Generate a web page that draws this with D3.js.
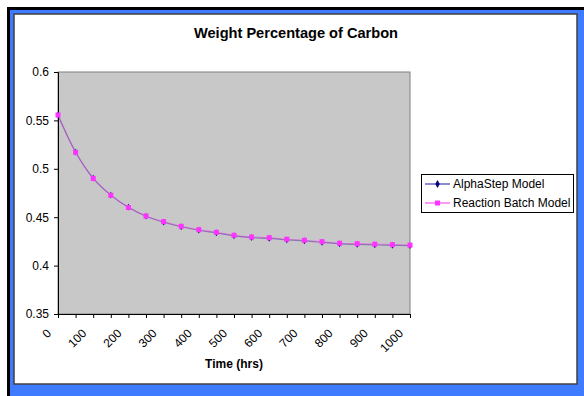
<!DOCTYPE html>
<html>
<head>
<meta charset="utf-8">
<script src="https://cdn.jsdelivr.net/npm/d3@7"></script>
<style>
  body { margin: 0; background: #fff; }
  text { font-family: "Liberation Sans", Arial, sans-serif; }
</style>
</head>
<body>
<div id="chart"></div>
<script>
const width = 584;
const height = 396;

// hours, every 50
const hours = [0, 50, 100, 150, 200, 250, 300, 350, 400, 450, 500,
               550, 600, 650, 700, 750, 800, 850, 900, 950, 1000];
const alphaStep = [0.5556, 0.5173, 0.4903, 0.4728, 0.4603, 0.4510, 0.4448, 0.4401, 0.4365, 0.4338, 0.4308,
                   0.4289, 0.4281, 0.4265, 0.4255, 0.4240, 0.4224, 0.4219, 0.4214, 0.4209, 0.4207];
const reactionBatch = [0.5556, 0.5170, 0.4900, 0.4726, 0.4600, 0.4512, 0.4454, 0.4406, 0.4371, 0.4344, 0.4313,
                       0.4295, 0.4288, 0.4272, 0.4262, 0.4247, 0.4231, 0.4226, 0.4221, 0.4216, 0.4211];
const yTicks = [0.35, 0.4, 0.45, 0.5, 0.55, 0.6];
const xLabels = [0, 100, 200, 300, 400, 500, 600, 700, 800, 900, 1000];
const seriesNames = ['AlphaStep Model', 'Reaction Batch Model'];

const plot = {left: 58, top: 72, right: 410, bottom: 314};

const svg = d3.select('#chart')
  .append('svg')
  .attr('width', width)
  .attr('height', height);

// frame: black shadow, blue band, white chart area
svg.append('rect').attr('x', 7).attr('y', 7).attr('width', width - 7).attr('height', height - 7).attr('fill', '#000');
svg.append('rect').attr('x', 10).attr('y', 10).attr('width', width - 10).attr('height', height - 10).attr('fill', '#3f7bff');
svg.append('rect').attr('x', 14).attr('y', 14).attr('width', 577 - 14).attr('height', 384 - 14)
  .attr('fill', '#fff').attr('stroke', '#404040').attr('stroke-width', 1.5);

const x = d3.scaleLinear().domain([0, 1000]).range([plot.left, plot.right]);
const y = d3.scaleLinear().domain([0.35, 0.6]).range([plot.bottom, plot.top]);

svg.append('rect')
  .attr('x', plot.left).attr('y', plot.top)
  .attr('width', plot.right - plot.left).attr('height', plot.bottom - plot.top)
  .attr('fill', '#c8c8c8')
  .attr('stroke', '#808080');

// y axis
const yAxis = svg.append('g')
  .attr('transform', `translate(${plot.left},0)`)
  .call(d3.axisLeft(y).tickValues(yTicks).tickSize(4).tickPadding(5).tickFormat(d3.format('')));
yAxis.select('.domain').attr('stroke', '#000');
yAxis.selectAll('text').style('font-size', '12px').attr('fill', '#000');

// x axis (ticks every 50, labels every 100)
const xAxis = svg.append('g')
  .attr('transform', `translate(0,${plot.bottom})`)
  .call(d3.axisBottom(x).tickValues(hours).tickSize(4).tickFormat(''));
xAxis.select('.domain').attr('stroke', '#000');

svg.append('g').selectAll('text')
  .data(xLabels)
  .enter()
  .append('text')
  .attr('transform', d => `translate(${x(d) - 6},${plot.bottom + 20}) rotate(-45)`)
  .attr('text-anchor', 'end')
  .style('font-size', '12px')
  .text(d => d);

// lines
const line = d3.line().curve(d3.curveCatmullRom);
const alphaPts = hours.map((h, i) => [x(h), y(alphaStep[i])]);
const reactPts = hours.map((h, i) => [x(h), y(reactionBatch[i])]);

svg.append('path').attr('d', line(alphaPts)).attr('fill', 'none')
  .attr('stroke', '#000080').attr('stroke-width', 1.2).attr('stroke-opacity', 0.35);
svg.append('path').attr('d', line(reactPts)).attr('fill', 'none')
  .attr('stroke', '#ff00ff').attr('stroke-width', 1.2).attr('stroke-opacity', 0.32);

svg.append('g').selectAll('path')
  .data(alphaPts)
  .enter()
  .append('path')
  .attr('transform', d => `translate(${d[0]},${d[1]})`)
  .attr('d', d3.symbol(d3.symbolDiamond, 13))
  .attr('fill', '#000080');

svg.append('g').selectAll('rect')
  .data(reactPts)
  .enter()
  .append('rect')
  .attr('x', d => d[0] - 2.5).attr('y', d => d[1] - 2.5)
  .attr('width', 5).attr('height', 5)
  .attr('fill', '#ff33ff');

// titles
svg.append('text')
  .attr('x', 296).attr('y', 38)
  .attr('text-anchor', 'middle')
  .style('font-size', '14.6px').style('font-weight', 'bold')
  .text('Weight Percentage of Carbon');

svg.append('text')
  .attr('x', (plot.left + plot.right) / 2).attr('y', 368)
  .attr('text-anchor', 'middle')
  .style('font-size', '12px').style('font-weight', 'bold')
  .text('Time (hrs)');

// legend
const legend = svg.append('g');
legend.append('rect')
  .attr('x', 421.5).attr('y', 174.5).attr('width', 152).attr('height', 38)
  .attr('fill', '#fff').attr('stroke', '#000');

const legendColors = ['#4040b0', '#ff50ff'];
seriesNames.forEach((name, i) => {
  const ly = 184 + i * 19;
  legend.append('line')
    .attr('x1', 425).attr('x2', 450).attr('y1', ly).attr('y2', ly)
    .attr('stroke', legendColors[i]).attr('stroke-width', 1.2);
  if (i === 0) {
    legend.append('path')
      .attr('transform', `translate(437.5,${ly})`)
      .attr('d', d3.symbol(d3.symbolDiamond, 18))
      .attr('fill', '#000080');
  } else {
    legend.append('rect')
      .attr('x', 435).attr('y', ly - 2.5).attr('width', 5).attr('height', 5)
      .attr('fill', '#ff33ff');
  }
  legend.append('text')
    .attr('x', 453).attr('y', ly)
    .attr('dy', '0.35em')
    .style('font-size', '12px')
    .text(name);
});
</script>
</body>
</html>
